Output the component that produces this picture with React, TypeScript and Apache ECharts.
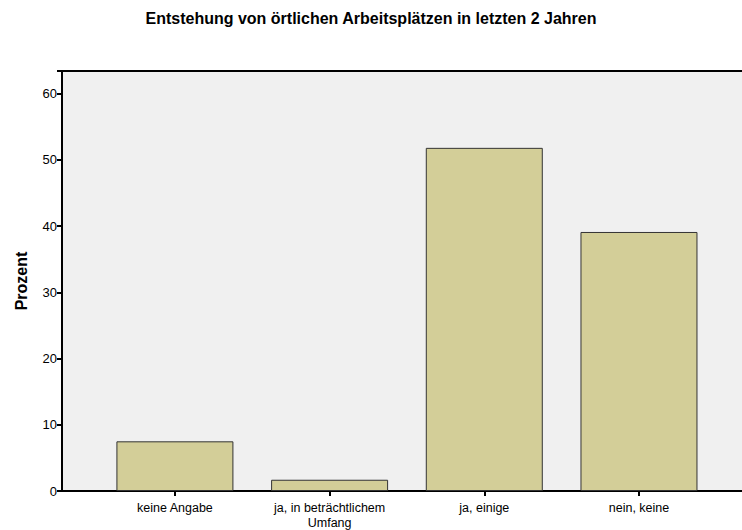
import React, { useEffect, useRef } from "react";
import * as echarts from "echarts";

const categories = ["keine Angabe", "ja, in beträchtlichem\nUmfang", "ja, einige", "nein, keine"];
const values = [7.5, 1.7, 51.8, 39.1];
const yTicks = [0, 10, 20, 30, 40, 50, 60];

const FONT = "Liberation Sans, Arial, sans-serif";

export default function App() {
  const ref = useRef<HTMLDivElement>(null);
  useEffect(() => {
    document.body.style.margin = "0";
    if (!ref.current) return;
    const chart = echarts.init(ref.current, null, { renderer: "svg" });
    const positions = categories.map((_, i) => i);
    chart.setOption({
      animation: false,
      backgroundColor: "#ffffff",
      textStyle: { fontFamily: FONT },
      title: {
        text: "Entstehung von örtlichen Arbeitsplätzen in letzten 2 Jahren",
        left: "center",
        top: 5,
        textStyle: { fontSize: 16, fontWeight: "bold", color: "#000", fontFamily: FONT },
      },
      grid: { left: 62, right: 0, top: 71, bottom: 38, show: true, backgroundColor: "#f0f0f0", borderWidth: 0 },
      xAxis: [
        {
          type: "value",
          min: -0.73,
          max: 3.666,
          splitLine: { show: false },
          axisLine: { show: true, onZero: false, lineStyle: { color: "#000", width: 2 } },
          axisTick: { show: true, customValues: positions, length: 5, lineStyle: { color: "#000", width: 2 } },
          axisLabel: {
            customValues: positions,
            formatter: (v: number) => categories[Math.round(v)] ?? "",
            fontSize: 12.5,
            color: "#000",
            margin: 9,
            lineHeight: 15,
            fontFamily: FONT,
          },
        },
        {
          type: "value",
          position: "top",
          min: -0.73,
          max: 3.666,
          splitLine: { show: false },
          axisLine: { show: true, onZero: false, lineStyle: { color: "#000", width: 2 } },
          axisTick: { show: false },
          axisLabel: { show: false },
        },
      ],
      yAxis: {
        type: "value",
        min: 0,
        max: 63.4,
        interval: 10,
        name: "Prozent",
        nameLocation: "middle",
        nameGap: 33,
        nameTextStyle: { fontSize: 16, fontWeight: "bold", color: "#000", fontFamily: FONT },
        splitLine: { show: false },
        axisLine: { show: true, onZero: false, lineStyle: { color: "#000", width: 2 } },
        axisTick: { show: true, length: 5, lineStyle: { color: "#000", width: 2 } },
        axisLabel: {
          fontSize: 13,
          color: "#000",
          margin: 5,
          formatter: (v: number) => (yTicks.includes(v) ? String(v) : ""),
          fontFamily: FONT,
        },
      },
      series: [
        {
          type: "bar",
          xAxisIndex: 0,
          data: values.map((v, i) => [i, v]),
          barWidth: 117,
          itemStyle: { color: "#d3ce98", borderColor: "#333", borderWidth: 1 },
        },
      ],
    });
    return () => chart.dispose();
  }, []);
  return <div ref={ref} style={{ width: 742, height: 530 }} />;
}
